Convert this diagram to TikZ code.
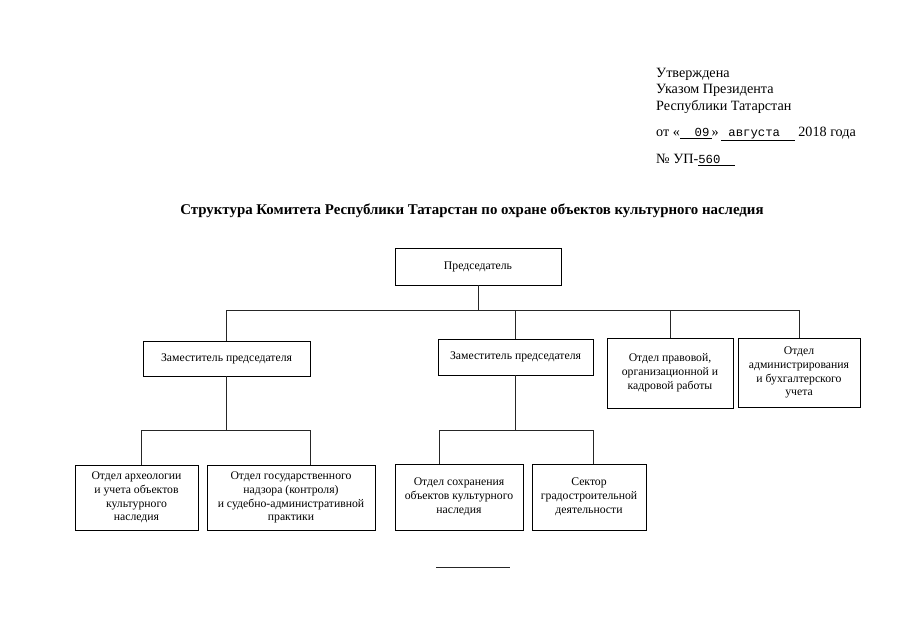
\documentclass[tikz,border=0pt]{standalone}
\usepackage{fontspec}
\setmainfont{Liberation Serif}
\newfontfamily\stampfont{Liberation Mono}
\usetikzlibrary{positioning}
\tikzset{
  unitbox/.style={rectangle, draw=black, line width=0.7pt, align=center, font=\fontsize{10}{11.8}\selectfont, inner sep=2pt},
  link/.style={draw=black!85, line width=0.5pt},
  headline/.style={anchor=base west, inner sep=0pt, font=\fontsize{12.1}{14}\selectfont}
}

\begin{document}
\begin{tikzpicture}[x=0.03cm, y=-0.03cm]
  \useasboundingbox (0,0) rectangle (905,640);

  % Approval stamp
  \node[headline] (appr1) at (656,77) {Утверждена};
  \node[headline] (appr2) at (656,93) {Указом Президента};
  \node[headline] (appr3) at (656,110) {Республики Татарстан};
  \node[headline] (appr4) at (656,136) {от «\underline{\stampfont\fontsize{10.5}{12}\selectfont\ \ 09\,}»\,\underline{\stampfont\fontsize{10.5}{12}\selectfont\ августа\ \ }\ 2018 года};
  \node[headline] (appr5) at (656,163) {№ УП-\underline{\stampfont\fontsize{10.5}{12}\selectfont 560\ \ }};

  % Title
  \node[font=\bfseries\fontsize{12.7}{15}\selectfont] (title) at (472,211) {Структура Комитета Республики Татарстан по охране объектов культурного наследия};

  % Top level
  \node[unitbox, minimum width=4.98cm, minimum height=1.11cm] (chair) at (478,266.5) {Председатель};

  % Second level
  \node[unitbox, minimum width=5.01cm, minimum height=1.05cm] (zamA) at (226.5,358.5) {Заместитель председателя};
  \node[unitbox, minimum width=4.65cm, minimum height=1.08cm] (zamB) at (515.5,357) {Заместитель председателя};
  \node[unitbox, minimum width=3.78cm, minimum height=2.1cm] (pravo) at (670,373) {Отдел правовой,\\организационной и\\кадровой работы};
  \node[unitbox, minimum width=3.66cm, minimum height=2.07cm] (admin) at (799,372.5) {Отдел\\администрирования\\и бухгалтерского\\учета};

  % Third level
  \node[unitbox, minimum width=3.69cm, minimum height=1.95cm] (arch) at (136.5,497.5) {Отдел археологии\\и учета объектов\\культурного\\наследия};
  \node[unitbox, minimum width=5.04cm, minimum height=1.95cm] (gos) at (291,497.5) {Отдел государственного\\надзора (контроля)\\и судебно-административной\\практики};
  \node[unitbox, minimum width=3.84cm, minimum height=1.98cm] (sohr) at (459,497) {Отдел сохранения\\объектов культурного\\наследия};
  \node[unitbox, minimum width=3.42cm, minimum height=1.98cm] (sector) at (589,497) {Сектор\\градостроительной\\деятельности};

  % Buses
  \coordinate (topbus) at (0,310);
  \coordinate (lowbus) at (0,430);
  \coordinate (archIn) at ([xshift=0.14cm]arch.north);
  \coordinate (gosIn) at ([xshift=0.57cm]gos.north);
  \coordinate (sohrIn) at ([xshift=-0.6cm]sohr.north);
  \coordinate (sectorIn) at ([xshift=0.12cm]sector.north);

  \draw[link] (chair.south) -- (chair.south |- topbus);
  \draw[link] (zamA.north) -- (zamA.north |- topbus) -- (admin.north |- topbus) -- (admin.north);
  \draw[link] (zamB.north) -- (zamB.north |- topbus);
  \draw[link] (pravo.north) -- (pravo.north |- topbus);

  \draw[link] (zamA.south) -- (zamA.south |- lowbus);
  \draw[link] (archIn) -- (archIn |- lowbus) -- (gosIn |- lowbus) -- (gosIn);
  \draw[link] (zamB.south) -- (zamB.south |- lowbus);
  \draw[link] (sohrIn) -- (sohrIn |- lowbus) -- (sectorIn |- lowbus) -- (sectorIn);

  % Closing rule
  \draw[link] (436,567) -- (510,567);
\end{tikzpicture}
\end{document}
